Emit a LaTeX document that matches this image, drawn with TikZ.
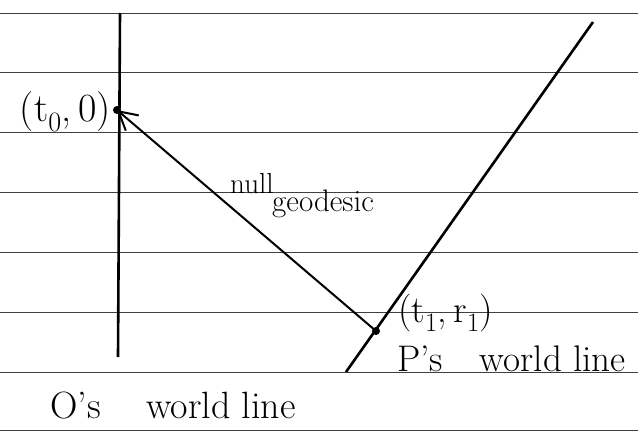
\documentclass[tikz,border=0pt]{standalone}
\usepackage{fontspec}
\usetikzlibrary{arrows.meta}
\newcommand{\evsub}[1]{\textsubscript{#1}}
\begin{document}
\begin{tikzpicture}[x=1pt,y=-1pt,
  rule/.style={draw=black!75,line width=0.7pt},
  worldline/.style={draw=black,line width=2.6pt},
  geod/.style={draw=black,line width=2pt,-{Straight Barb[length=18pt,width=20pt,line width=2pt]}},
  event/.style={circle,fill=black,inner sep=0pt,minimum size=8pt},
  lbl/.style={inner sep=0pt,font=\fontsize{#1}{#1}\selectfont},
  lbl/.default=28]
\useasboundingbox[fill=white] (0,0) rectangle (638,431);
% ruled paper lines
\foreach \y in {13,72,132,192,252,312,372,430}
  \draw[rule] (0,\y) -- (638,\y);
% O's world line
\coordinate (Otop) at (120,13);
\coordinate (Obot) at (118,357);
\draw[worldline] (Otop) -- (Obot);
% P's world line
\coordinate (Ptop) at (593,22);
\coordinate (Pbot) at (346,372);
\draw[worldline] (Pbot) -- (Ptop);
% events
\node[event] (E0) at (117,110) {};
\node[event] (E1) at (376,331) {};
% null geodesic
\draw[geod] (E1.center) -- (E0.center);
% labels
\node[lbl=40,anchor=east] (L0) at (111,112) {(t\evsub{0},\,0)};
\node[lbl=29,anchor=base west] (Lnull) at (230,193) {null};
\node[lbl=31,anchor=base west] (Lgeo) at (272,211) {geodesic};
\node[lbl=38,anchor=west] (L1) at (398,313) {(t\evsub{1},\,r\evsub{1})};
\node[lbl=37,anchor=base west] (LP) at (397,371) {\addfontfeature{LetterSpace=8}P's\hspace{1em}world line};
\node[lbl=38,anchor=base west] (LO) at (50,418) {\addfontfeature{LetterSpace=10}O's\hspace{1.2em}world line};
\end{tikzpicture}
\end{document}
